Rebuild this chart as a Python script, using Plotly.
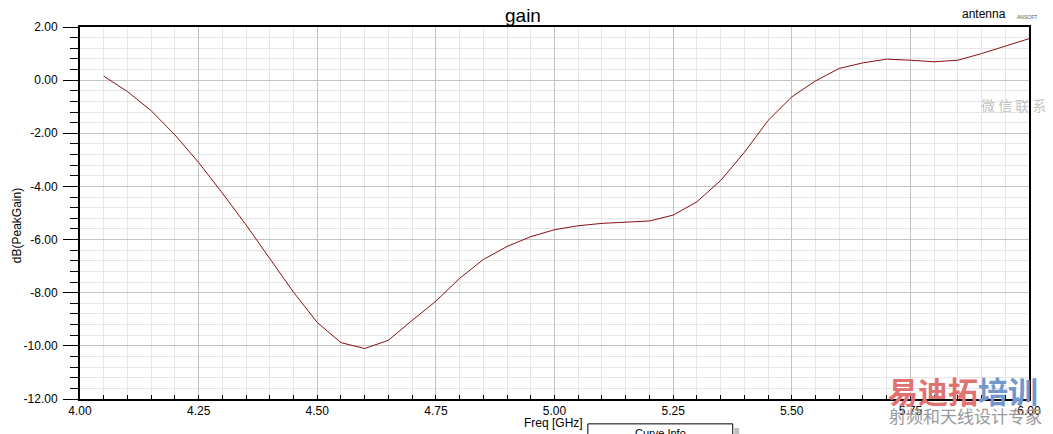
import plotly.graph_objects as go

# ---- data ----
freq_ghz = [4.05, 4.10, 4.15, 4.20, 4.25, 4.30, 4.35, 4.40, 4.45, 4.50,
            4.55, 4.60, 4.65, 4.70, 4.75, 4.80, 4.85, 4.90, 4.95, 5.00,
            5.05, 5.10, 5.15, 5.20, 5.25, 5.30, 5.35, 5.40, 5.45, 5.50,
            5.55, 5.60, 5.65, 5.70, 5.75, 5.80, 5.85, 5.90, 5.95, 6.00]
peak_gain_db = [0.15, -0.43, -1.15, -2.06, -3.10, -4.25, -5.45, -6.72, -7.98, -9.12,
                -9.88, -10.10, -9.79, -9.04, -8.32, -7.46, -6.75, -6.26, -5.89, -5.63,
                -5.48, -5.39, -5.34, -5.30, -5.08, -4.58, -3.78, -2.72, -1.52, -0.63,
                -0.03, 0.44, 0.65, 0.79, 0.75, 0.69, 0.75, 1.00, 1.28, 1.56]

x_tick_vals = [4.00, 4.25, 4.50, 4.75, 5.00, 5.25, 5.50, 5.75, 6.00]
x_tick_text = ["4.00", "4.25", "4.50", "4.75", "5.00", "5.25", "5.50", "5.75", "6.00"]
y_tick_vals = [2, 0, -2, -4, -6, -8, -10, -12]
y_tick_text = ["2.00", "0.00", "-2.00", "-4.00", "-6.00", "-8.00", "-10.00", "-12.00"]

FONT = "Liberation Sans, Arial, sans-serif"
CJK = "Noto Sans CJK SC, sans-serif"

fig = go.Figure()
fig.add_trace(go.Scatter(
    x=freq_ghz, y=peak_gain_db, mode="lines",
    line=dict(color="#8a1010", width=1),
    showlegend=False, hoverinfo="x+y"))

# page body has an 8px margin; compensate so the plot lands where the reference has it
OFF = 8
W, H = 1053 - OFF, 434 - OFF
PL, PR, PT, PB = 80, 1033, 25, 399      # desired plot box in window pixels
L = PL - OFF
T = PT - OFF
R = (OFF + W) - PR
B = (OFF + H) - PB
pw, ph = PR - PL, PB - PT


def px(xp):
    return (xp - PL) / pw


def py(yp):
    return (PB - yp) / ph


fig.update_layout(
    width=W, height=H,
    margin=dict(l=L, r=R, t=T, b=B, pad=0),
    paper_bgcolor="white", plot_bgcolor="white",
    font=dict(family=FONT, size=12, color="black"),
    xaxis=dict(
        range=[4.0, 6.0], tickvals=x_tick_vals, ticktext=x_tick_text,
        ticks="inside", ticklen=4, tickcolor="black",
        showline=True, linecolor="black", linewidth=2, mirror=True,
        showgrid=True, gridcolor="#c4c4c4", gridwidth=1, zeroline=False,
        minor=dict(dtick=0.05, ticks="inside", ticklen=4, tickcolor="black",
                   showgrid=True, gridcolor="#e6e6e6", gridwidth=1),
        tickfont=dict(family=FONT, size=12),
    ),
    yaxis=dict(
        range=[-12, 2], tickvals=y_tick_vals, ticktext=y_tick_text,
        ticks="outside", ticklen=15, tickcolor="black", tickwidth=1,
        showline=True, linecolor="black", linewidth=2, mirror=True,
        showgrid=True, gridcolor="#c4c4c4", gridwidth=1, zeroline=False,
        minor=dict(dtick=0.4, tick0=0, ticks="outside", ticklen=8, tickcolor="black",
                   showgrid=True, gridcolor="#e6e6e6", gridwidth=1),
        tickfont=dict(family=FONT, size=12),
        ticklabelstandoff=3,
    ),
)


def note(text, xp, yp, size, color="black", family=FONT, angle=0):
    return dict(text=text, x=px(xp), y=py(yp), xref="paper", yref="paper",
                showarrow=False, textangle=angle,
                font=dict(size=size, family=family, color=color),
                xanchor="center", yanchor="middle")


ann = [
    note("gain", 525, 13, 19),
    note("antenna", 988, 12, 12),
    note("ANSOFT", 1031, 15, 5, color="#555"),
    note("dB(PeakGain)", 17, 225, 12, angle=-90),
    note("Freq [GHz]", 555, 423, 12),
    note("Curve Info", 663, 433, 11),
    note("微 信 联 系", 1017, 103, 14, color="#c4c4c4", family=CJK),
    note('<b><span style="color:#e07272">易迪拓</span><span style="color:#7396cc">培训</span></b>',
         967, 390, 30, family=CJK),
    note("射频和天线设计专家", 969, 416, 17, color="#999999", family=CJK),
]
fig.update_layout(annotations=ann)

shapes = [
    dict(type="rect", xref="paper", yref="paper",
         x0=px(590), x1=px(735.5), y0=py(424), y1=py(445),
         line=dict(color="black", width=1), fillcolor="white", layer="above"),
    dict(type="rect", xref="paper", yref="paper",
         x0=px(737), x1=px(742), y0=py(428), y1=py(445),
         line=dict(width=0), fillcolor="#c0c0c0", layer="above"),
]
fig.update_layout(shapes=shapes)

fig.write_html("out.html")
